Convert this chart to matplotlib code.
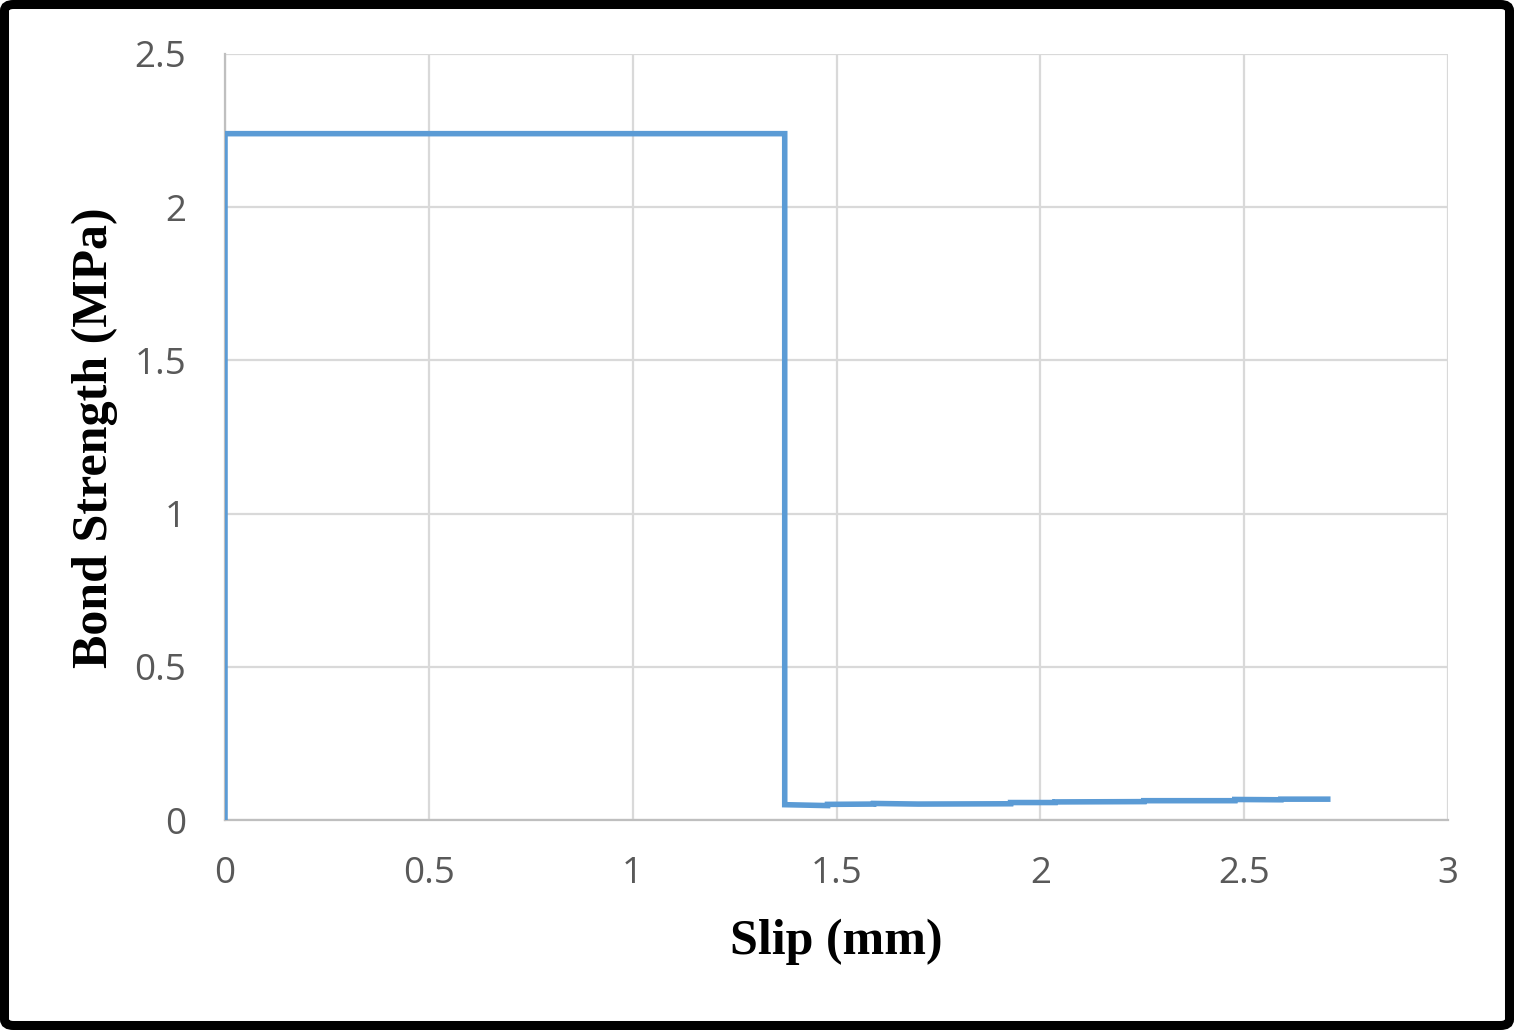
import matplotlib
matplotlib.use('Agg')
from matplotlib import pyplot as plt
from matplotlib.patches import FancyBboxPatch

# slip (mm) and bond strength (MPa)
slip = [0.0, 0.0, 1.373, 1.373, 1.478, 1.478, 1.591, 1.591, 1.700, 1.700,
        1.927, 1.927, 2.036, 2.036, 2.254, 2.254, 2.477, 2.477, 2.590, 2.590, 2.705]
stress = [0.0, 2.24, 2.24, 0.050, 0.047, 0.051, 0.052, 0.054, 0.052, 0.052,
          0.053, 0.057, 0.057, 0.059, 0.060, 0.063, 0.063, 0.067, 0.066, 0.068, 0.068]

xticks = [0, 0.5, 1, 1.5, 2, 2.5, 3]
yticks = [0, 0.5, 1, 1.5, 2, 2.5]

fig = plt.figure(figsize=(15.14, 10.30), dpi=100)
ax = fig.add_axes([225/1514, 1 - 820/1030, (1448-225)/1514, (820-54)/1030])

ax.plot(slip, stress, '-', color='#5b9bd5', lw=4.0, solid_joinstyle='miter', zorder=3)

ax.set_xlim(0, 3)
ax.set_ylim(0, 2.5)
ax.set_xticks(xticks)
ax.set_xticklabels([f'{t:g}' for t in xticks])
ax.set_yticks(yticks)
ax.set_yticklabels([f'{t:g}' for t in yticks])
ax.grid(True, color='#d9d9d9', lw=1.6)
ax.set_axisbelow(True)
for s in ['top', 'right']:
    ax.spines[s].set_visible(False)
for s in ['left', 'bottom']:
    ax.spines[s].set_color('#bfbfbf')
    ax.spines[s].set_linewidth(1.6)
ax.tick_params(length=0, labelsize=26.5, labelcolor='#595959')
for lab in ax.get_xticklabels() + ax.get_yticklabels():
    lab.set_family('Open Sans')
ax.tick_params(axis='y', pad=28)
ax.tick_params(axis='x', pad=26)

fig.text(836/1514, 1 - 942/1030, 'Slip (mm)', ha='center', va='center',
         family='Liberation Serif', weight='bold', fontsize=36)
fig.text(95/1514, 1 - 438/1030, 'Bond Strength (MPa)', ha='center', va='center',
         rotation=90, family='Liberation Serif', weight='bold', fontsize=36)

# black frame round the whole picture
frame = FancyBboxPatch((4.5/1514, 4.5/1030), 1 - 9/1514, 1 - 9/1030,
                       boxstyle='round,pad=0,rounding_size=0.006',
                       transform=fig.transFigure, fill=False,
                       edgecolor='black', lw=6.5)
fig.patches.append(frame)

plt.savefig('out.png', dpi=100)
